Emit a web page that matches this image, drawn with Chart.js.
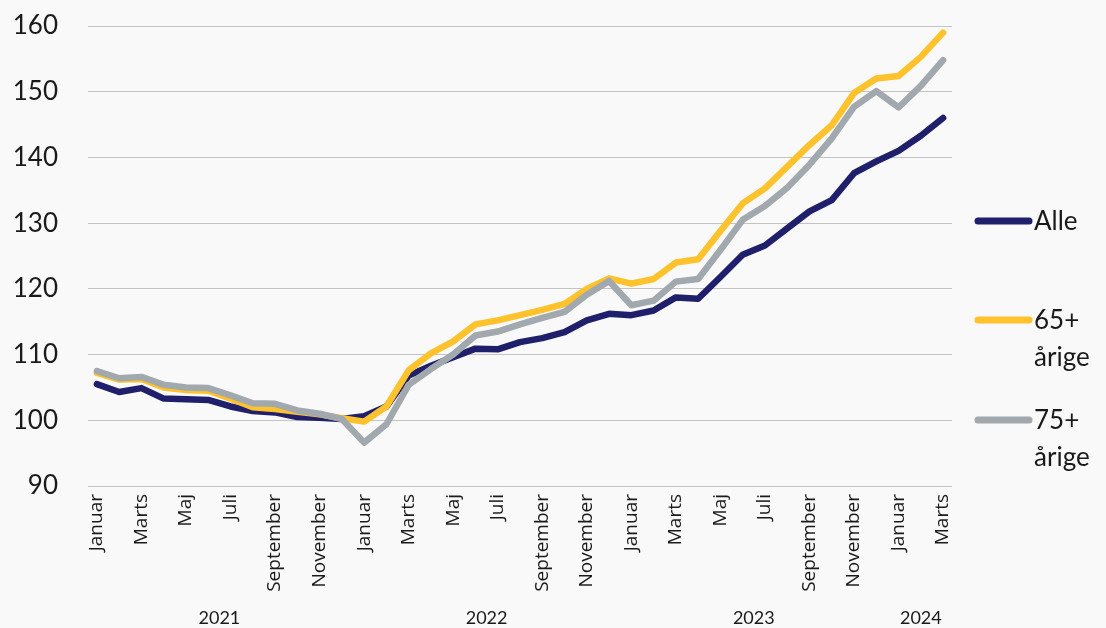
<!DOCTYPE html>
<html><head><meta charset="utf-8">
<script src="https://cdn.jsdelivr.net/npm/chart.js@4"></script>
<style>html,body{margin:0;padding:0;background:#f9f9f9;} #wrap{width:1106px;height:628px;}</style>
</head><body><div id="wrap"><canvas id="c" width="1106" height="628"></canvas></div>
<script>
const categories = [
 'Januar','Februar','Marts','April','Maj','Juni','Juli','August','September','Oktober','November','December',
 'Januar','Februar','Marts','April','Maj','Juni','Juli','August','September','Oktober','November','December',
 'Januar','Februar','Marts','April','Maj','Juni','Juli','August','September','Oktober','November','December',
 'Januar','Februar','Marts'];
const years = ['2021','2022','2023','2024'];
const yearCounts = [12,12,12,3];
const alle = [105.5,104.3,104.9,103.3,103.2,103.1,102.1,101.4,101.2,100.5,100.4,100.2,
  100.6,102.1,106.8,108.3,109.6,110.9,110.8,111.9,112.5,113.4,115.2,116.2,
  116.0,116.7,118.7,118.5,121.8,125.2,126.6,129.2,131.8,133.5,137.6,139.4,
  141.0,143.3,146.0];
const aarige65 = [107.2,106.2,106.3,105.0,104.6,104.5,103.3,102.0,101.7,101.3,100.9,100.3,
  99.8,102.1,107.6,110.2,112.0,114.6,115.2,116.0,116.8,117.7,120.0,121.6,
  120.8,121.5,124.0,124.5,128.8,133.0,135.3,138.6,141.9,144.9,149.8,152.0,
  152.4,155.3,159.0];
const aarige75 = [107.5,106.4,106.6,105.4,105.0,104.9,103.8,102.6,102.5,101.5,101.0,100.2,
  96.6,99.4,105.4,107.8,110.0,112.9,113.5,114.6,115.6,116.5,119.1,121.2,
  117.5,118.2,121.1,121.5,125.9,130.5,132.6,135.4,138.9,142.9,147.7,150.1,
  147.6,150.9,154.8];
const seriesNames = [['Alle'],['65+','årige'],['75+','årige']];
const seriesColors = ['#1f1f6b','#fec22d','#a1a8ae'];

const FONT = "Lato, 'Open Sans', sans-serif";
const XFONT = "'Open Sans', Lato, sans-serif";
const TEXT = '#1a1a1a';

const toPts = arr => arr.map((v,i)=>({x:i,y:v}));

const extras = {
  id:'extras',
  afterDraw(chart){
    const ctx = chart.ctx, xs = chart.scales.x;
    ctx.save();
    ctx.font = "18px 'Liberation Sans Narrow', " + FONT;
    ctx.fillStyle = TEXT; ctx.textAlign='center'; ctx.textBaseline='middle';
    let start = 0;
    years.forEach((y,k)=>{
      const mid = start + (yearCounts[k]-1)/2;
      ctx.fillText(y, xs.getPixelForValue(mid), 618);
      start += yearCounts[k];
    });
    const ys = [221, 320, 420];
    ctx.font = "26px " + FONT; ctx.textAlign='left';
    seriesNames.forEach((lines,k)=>{
      ctx.strokeStyle = seriesColors[k]; ctx.lineWidth = 7; ctx.lineCap='round';
      ctx.beginPath(); ctx.moveTo(978, ys[k]); ctx.lineTo(1029, ys[k]); ctx.stroke();
      ctx.fillStyle = TEXT;
      lines.forEach((t,j)=> ctx.fillText(t, 1034, ys[k] + j*37 + 1));
    });
    ctx.restore();
  }
};

const ds = (label, data, color, order) => ({
  label, data: toPts(data), borderColor: color, backgroundColor: color,
  borderWidth: 6.5, pointRadius: 0, tension: 0, order,
  borderJoinStyle:'round', borderCapStyle:'round'
});

new Chart(document.getElementById('c'), {
  type:'line',
  data:{ datasets:[
    ds(seriesNames[0].join(' '), alle, seriesColors[0], 2),
    ds(seriesNames[1].join(' '), aarige65, seriesColors[1], 1),
    ds(seriesNames[2].join(' '), aarige75, seriesColors[2], 0)
  ]},
  options:{
    responsive:false, animation:false, devicePixelRatio:1,
    layout:{ padding:{ top:26, right:154, left:0, bottom:0 } },
    plugins:{ legend:{display:false}, tooltip:{enabled:false} },
    scales:{
      x:{
        type:'linear', min:-0.4, max:categories.length-1+0.4,
        grid:{display:false, drawTicks:false}, border:{display:false},
        afterBuildTicks(s){ s.ticks = categories.map((c,i)=>({value:i})).filter(t=>t.value%2===0); },
        afterFit(s){ s.height = 142; },
        ticks:{ autoSkip:false, minRotation:90, maxRotation:90, padding:8,
          font:{family:XFONT, size:19}, color:TEXT,
          callback:(v)=>categories[v] }
      },
      y:{
        min:90, max:160,
        afterFit(s){ s.width = 88; s.paddingTop = 0; s.paddingBottom = 0; },
        grid:{ color:'#c3c3c3', lineWidth:1, drawTicks:false },
        border:{display:false},
        ticks:{ stepSize:10, padding:30, font:{family:FONT, size:26}, color:TEXT }
      }
    }
  },
  plugins:[extras]
});
</script></body></html>
